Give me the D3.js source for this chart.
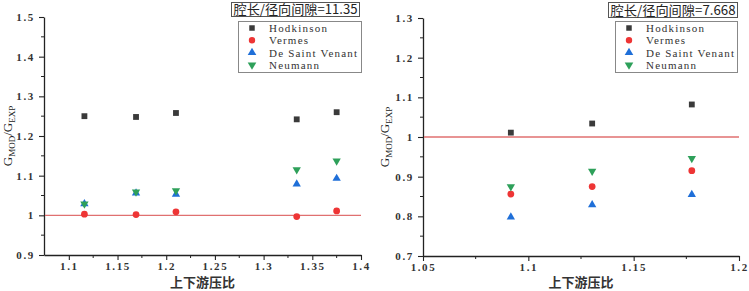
<!DOCTYPE html>
<html><head><meta charset="utf-8">
<script src="https://cdn.jsdelivr.net/npm/d3@7"></script>
<style>body{margin:0;background:#fff}svg{display:block}</style>
</head><body>
<svg id="c" width="749" height="291"></svg>
<script>
const seriesNames = ["Hodkinson", "Vermes", "De Saint Venant", "Neumann"];
const seriesColors = ["#3a3a3a", "#ee3535", "#1f6fd8", "#2ea05a"];
const seriesSymbols = ["square", "circle", "triangle", "triangleDown"];

// Left panel: 腔长/径向间隙=11.35
const leftTitle = "腔长/径向间隙=11.35";
const leftX = [1.116, 1.169, 1.21, 1.334, 1.375];
const leftHodkinson = [1.25, 1.248, 1.258, 1.242, 1.26];
const leftVermes = [1.003, 1.002, 1.009, 0.997, 1.011];
const leftDSV = [1.029, 1.056, 1.053, 1.079, 1.093];
const leftNeumann = [1.029, 1.059, 1.062, 1.115, 1.137];
const leftXTicks = [1.1, 1.15, 1.2, 1.25, 1.3, 1.35, 1.4];
const leftYTicks = [0.9, 1.0, 1.1, 1.2, 1.3, 1.4, 1.5];

// Right panel: 腔长/径向间隙=7.668
const rightTitle = "腔长/径向间隙=7.668";
const rightX = [1.0917, 1.1303, 1.1776];
const rightHodkinson = [1.011, 1.034, 1.082];
const rightVermes = [0.856, 0.875, 0.915];
const rightDSV = [0.798, 0.829, 0.855];
const rightNeumann = [0.875, 0.914, 0.946];
const rightXTicks = [1.05, 1.1, 1.15, 1.2];
const rightYTicks = [0.7, 0.8, 0.9, 1.0, 1.1, 1.2, 1.3];

const refValue = 1.0;
const xLabel = "上下游压比";

const svg = d3.select("#c");
const SERIF = "'Liberation Serif','DejaVu Serif','Times New Roman',serif";
const symMap = {square: d3.symbolSquare, circle: d3.symbolCircle, triangle: d3.symbolTriangle};
function sym(name, size) {
  if (name === "triangleDown") return d3.symbol(d3.symbolTriangle, size)();
  return d3.symbol(symMap[name], size)();
}

function panel(cfg) {
  const g = svg.append("g");
  const x = d3.scaleLinear().domain(cfg.xDomain).range([cfg.left, cfg.right]);
  const y = d3.scaleLinear().domain(cfg.yDomain).range([cfg.bottom, cfg.top]);

  const xMinor = d3.range(cfg.xTicks.length - 1).map(i => (cfg.xTicks[i] + cfg.xTicks[i+1]) / 2);
  const yMinor = d3.range(cfg.yTicks.length - 1).map(i => (cfg.yTicks[i] + cfg.yTicks[i+1]) / 2);

  const xAxis = d3.axisBottom(x).tickValues(cfg.xTicks).tickSize(5).tickPadding(2).tickSizeOuter(0)
    .tickFormat(d => String(+d.toFixed(3)));
  const xa = g.append("g").attr("transform", `translate(0,${cfg.bottom})`).call(xAxis);
  const yAxis = d3.axisLeft(y).tickValues(cfg.yTicks).tickSize(5).tickSizeOuter(0)
    .tickFormat(d => String(+d.toFixed(3)));
  const ya = g.append("g").attr("transform", `translate(${cfg.left},0)`).call(yAxis);
  [xa, ya].forEach(a => {
    a.attr("font-family", null).attr("font-size", null);
    a.select(".domain").attr("stroke", "#222").attr("stroke-width", 1.3);
    a.selectAll(".tick line").attr("stroke", "#222").attr("stroke-width", 1.1);
    a.selectAll("text").style("font-family", SERIF).style("font-size", "11px")
      .style("font-weight", "bold").attr("fill", "#333").style("letter-spacing", "1.6px");
  });
  ya.selectAll("text").attr("dx", "-0.1em");
  g.append("g").selectAll("line").data(xMinor).join("line")
    .attr("x1", d => x(d)).attr("x2", d => x(d)).attr("y1", cfg.bottom).attr("y2", cfg.bottom + 3)
    .attr("stroke", "#222");
  g.append("g").selectAll("line").data(yMinor).join("line")
    .attr("y1", d => y(d)).attr("y2", d => y(d)).attr("x1", cfg.left).attr("x2", cfg.left - 3)
    .attr("stroke", "#222");

  // reference line
  g.append("line").attr("x1", x(cfg.xDomain[0]) + 1).attr("x2", x(cfg.xDomain[1]))
    .attr("y1", y(refValue)).attr("y2", y(refValue))
    .attr("stroke", "#e07070").attr("stroke-width", 1.4);

  // data
  const series = [cfg.h, cfg.v, cfg.d, cfg.n];
  series.forEach((vals, si) => {
    g.append("g").selectAll("path").data(vals).join("path")
      .attr("d", sym(seriesSymbols[si], si === 0 ? 34 : si === 1 ? 36 : 30))
      .attr("transform", (d, i) => `translate(${x(cfg.xs[i])},${y(d)})` + (seriesSymbols[si] === "triangleDown" ? " rotate(180)" : ""))
      .attr("fill", seriesColors[si]);
  });

  // y label
  const yl = g.append("text").attr("transform", `translate(${cfg.yLabelX},${(cfg.top + cfg.bottom)/2}) rotate(-90)`)
    .attr("text-anchor", "middle").style("font-family", SERIF).style("font-size", "13px").attr("fill", "#222");
  yl.append("tspan").text("G");
  yl.append("tspan").style("font-size", "9px").attr("dy", 3).text("MOD");
  yl.append("tspan").attr("dy", -3).text("/G");
  yl.append("tspan").style("font-size", "9px").attr("dy", 3).text("EXP");

  // x label
  g.append("text").attr("x", (cfg.left + cfg.right)/2).attr("y", 287)
    .attr("text-anchor", "middle").style("font-family", "'Noto Sans CJK SC', sans-serif")
    .style("font-size", "13px").style("font-weight", "bold").attr("fill", "#333").text(xLabel);

  // title box
  g.append("rect").attr("x", cfg.tb[0] + 0.5).attr("y", cfg.tb[1] + 0.5).attr("width", cfg.tb[2]).attr("height", cfg.tb[3])
    .attr("fill", "#fff").attr("stroke", "#555").attr("stroke-width", 1);
  g.append("text").attr("x", cfg.tb[0] + cfg.tb[2]/2 + 0.5).attr("y", cfg.tb[1] + cfg.tb[3] - 2.5)
    .attr("text-anchor", "middle").style("font-family", "'Noto Sans CJK SC', sans-serif")
    .style("font-size", "13px").attr("fill", "#222").attr("textLength", cfg.tb[2] - 4).attr("lengthAdjust", "spacingAndGlyphs")
    .text(cfg.title);

  // legend box
  g.append("rect").attr("x", cfg.lb[0] + 0.5).attr("y", cfg.lb[1] + 0.5).attr("width", cfg.lb[2]).attr("height", cfg.lb[3])
    .attr("fill", "#fff").attr("stroke", "#888").attr("stroke-width", 1);
  seriesNames.forEach((nm, si) => {
    const cy = cfg.lb[1] + 7 + si * 12.3;
    g.append("path").attr("d", sym(seriesSymbols[si], si === 0 ? 30 : 32))
      .attr("transform", `translate(${cfg.lb[0] + 14},${cy})` + (seriesSymbols[si] === "triangleDown" ? " rotate(180)" : ""))
      .attr("fill", seriesColors[si]);
    g.append("text").attr("x", cfg.lb[0] + 31).attr("y", cy + 4).style("font-family", SERIF)
      .style("font-size", "11px").attr("fill", "#333").style("letter-spacing", "1.2px").text(nm);
  });
}

panel({
  xDomain: [1.0745, 1.4], yDomain: [0.9, 1.5], xTicks: leftXTicks, yTicks: leftYTicks,
  left: 44, right: 361, top: 17, bottom: 255,
  xs: leftX, h: leftHodkinson, v: leftVermes, d: leftDSV, n: leftNeumann,
  yLabelX: 12, title: leftTitle, tb: [231, 2, 128, 14], lb: [238, 21, 123, 51]
});
panel({
  xDomain: [1.05, 1.2], yDomain: [0.7, 1.3], xTicks: rightXTicks, yTicks: rightYTicks,
  left: 423, right: 739, top: 18, bottom: 256,
  xs: rightX, h: rightHodkinson, v: rightVermes, d: rightDSV, n: rightNeumann,
  yLabelX: 389, title: rightTitle, tb: [608, 2, 129, 15], lb: [615, 21, 122, 51]
});
</script>
</body></html>
